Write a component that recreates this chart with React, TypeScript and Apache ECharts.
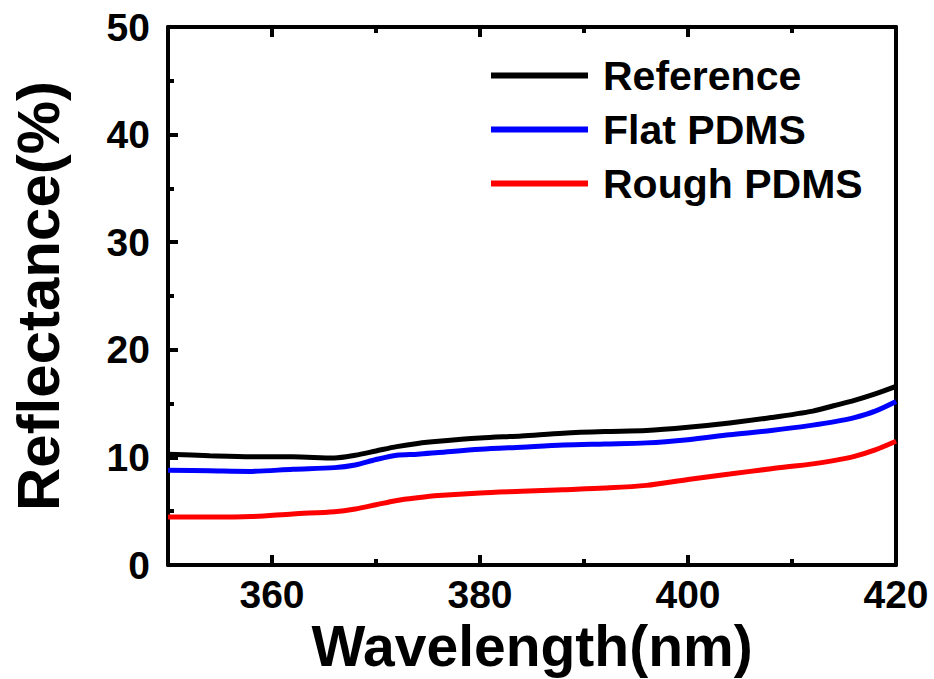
import React, { useEffect, useRef } from "react";
import * as echarts from "echarts";

const wavelengths = [350, 354, 358, 362, 366, 368, 370, 372, 374, 376, 380, 384, 388, 392, 396, 400, 404, 408, 412, 414, 416, 418, 420];
const referenceVals = [10.3, 10.15, 10.05, 10.05, 9.95, 10.2, 10.6, 11.0, 11.3, 11.5, 11.8, 12.0, 12.25, 12.4, 12.5, 12.8, 13.2, 13.7, 14.3, 14.8, 15.3, 15.9, 16.6];
const flatVals = [8.8, 8.75, 8.7, 8.9, 9.05, 9.3, 9.8, 10.2, 10.3, 10.45, 10.75, 10.95, 11.15, 11.25, 11.35, 11.65, 12.1, 12.5, 13.0, 13.3, 13.7, 14.3, 15.2];
const roughVals = [4.45, 4.45, 4.5, 4.75, 4.95, 5.2, 5.6, 6.0, 6.25, 6.45, 6.7, 6.85, 7.0, 7.15, 7.4, 7.95, 8.45, 8.95, 9.4, 9.7, 10.1, 10.7, 11.5];
const seriesNames = ["Reference", "Flat PDMS", "Rough PDMS"];
const seriesColors = ["#000000", "#0000ff", "#ff0000"];
const xTickCats = ["350", "360", "370", "380", "390", "400", "410", "420"];
const xMajorTicks = ["360", "380", "400", "420"];
const xMinorTicks = ["370", "390", "410"];

const FONT = "Liberation Sans, Arial, sans-serif";

export default function App() {
  const ref = useRef<HTMLDivElement>(null);
  useEffect(() => {
    if (!ref.current) return;
    const chart = echarts.init(ref.current, null, { renderer: "svg" });
    const lineStyle = { color: "#000", width: 4 };
    const tickStyle = { width: 4, color: "#000" };
    const isMajor = (_i: number, v: string) => xMajorTicks.indexOf(String(v)) >= 0;
    const isMinor = (_i: number, v: string) => xMinorTicks.indexOf(String(v)) >= 0;
    const valueX = (position: string, extra: any) => ({
      type: "value",
      min: 350,
      max: 420,
      position,
      splitLine: { show: false },
      axisLine: { show: true, lineStyle },
      axisTick: { show: false },
      axisLabel: { show: false },
      ...extra,
    });
    const tickX = (position: string, major: boolean, labels: boolean) => ({
      type: "category",
      data: xTickCats,
      boundaryGap: false,
      position,
      splitLine: { show: false },
      axisLine: { show: false },
      axisTick: {
        show: true,
        inside: true,
        length: major ? 10 : 6,
        interval: major ? isMajor : isMinor,
        lineStyle: tickStyle,
      },
      axisLabel: labels
        ? { show: true, interval: isMajor, fontFamily: FONT, fontWeight: "bold", fontSize: 39, color: "#000", margin: 10 }
        : { show: false },
    });
    const allVals = [referenceVals, flatVals, roughVals];
    chart.setOption({
      animation: false,
      backgroundColor: "#fff",
      grid: { left: 162, right: 38, top: 27, bottom: 111, containLabel: false },
      legend: {
        orient: "vertical",
        left: 486,
        top: 50,
        itemWidth: 97,
        itemHeight: 6,
        itemGap: 13,
        icon: "rect",
        data: seriesNames,
        textStyle: { fontFamily: FONT, fontWeight: "bold", fontSize: 41, color: "#000", padding: [0, 0, 0, 10], lineHeight: 41 },
      },
      xAxis: [
        valueX("bottom", {
          name: "Wavelength(nm)",
          nameLocation: "middle",
          nameGap: 52,
          nameTextStyle: { fontFamily: FONT, fontWeight: "bold", fontSize: 57, color: "#000" },
        }),
        tickX("bottom", true, true),
        tickX("bottom", false, false),
        valueX("top", {}),
        tickX("top", true, false),
        tickX("top", false, false),
      ],
      yAxis: [
        {
          type: "value",
          min: 0,
          max: 50,
          interval: 10,
          position: "left",
          splitLine: { show: false },
          axisLine: { show: true, lineStyle },
          axisTick: { show: true, inside: true, length: 10, lineStyle: tickStyle },
          minorTick: { show: true, splitNumber: 2, length: 6, lineStyle: tickStyle },
          axisLabel: { fontFamily: FONT, fontWeight: "bold", fontSize: 39, color: "#000", margin: 18 },
          name: "Reflectance(%)",
          nameLocation: "middle",
          nameGap: 100,
          nameTextStyle: { fontFamily: FONT, fontWeight: "bold", fontSize: 60, color: "#000" },
        },
        {
          type: "value",
          min: 0,
          max: 50,
          interval: 10,
          position: "right",
          splitLine: { show: false },
          axisLine: { show: true, lineStyle },
          axisTick: { show: false },
          axisLabel: { show: false },
        },
      ],
      series: seriesNames.map((name, i) => ({
        name,
        type: "line",
        xAxisIndex: 0,
        yAxisIndex: 0,
        data: wavelengths.map((w, j) => [w, allVals[i][j]]),
        showSymbol: false,
        smooth: 0.3,
        itemStyle: { color: seriesColors[i] },
        lineStyle: { color: seriesColors[i], width: 5 },
      })),
    });
    return () => chart.dispose();
  }, []);
  return <div ref={ref} style={{ width: 934, height: 679, position: "absolute", left: 0, top: 0 }} />;
}
